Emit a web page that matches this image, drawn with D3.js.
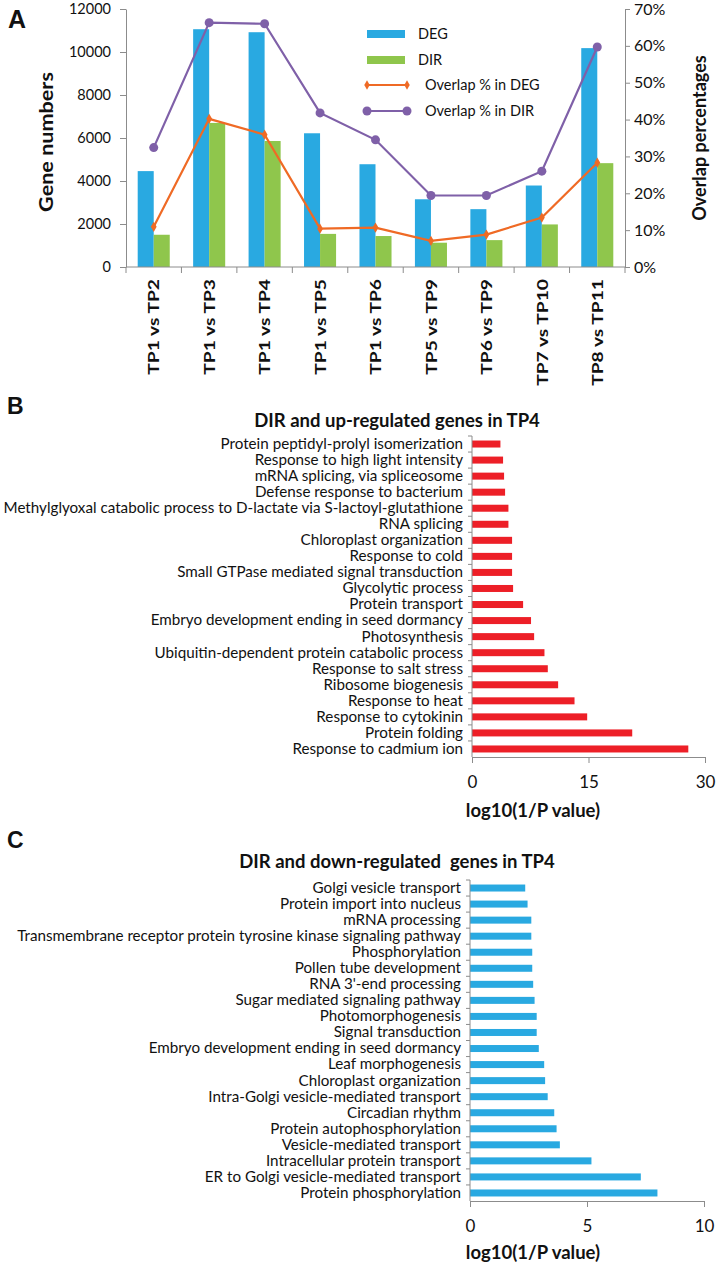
<!DOCTYPE html>
<html lang="en">
<head>
<meta charset="UTF-8">
<title>DEG / DIR overlap and GO enrichment in TP4</title>
<script src="https://d3js.org/d3.v7.min.js"></script>
<style>
    body { margin: 0; background: #fff; }
    svg text { font-family: Lato, "Open Sans", sans-serif; fill: #111; }
    .axis path, .axis line { stroke: #8c8c8c; }
    .panel-letter { font-family: "Liberation Sans", Arial, sans-serif; font-weight: bold; }
</style>
</head>
<body>
<div id="chart"></div>
<script>
// ---- panel A data ----
const comparisons = ["TP1 vs TP2", "TP1 vs TP3", "TP1 vs TP4", "TP1 vs TP5", "TP1 vs TP6",
    "TP5 vs TP9", "TP6 vs TP9", "TP7 vs TP10", "TP8 vs TP11"];
const degCounts = [4460, 11060, 10920, 6220, 4780, 3150, 2690, 3790, 10180];
const dirCounts = [1500, 6700, 5860, 1540, 1440, 1130, 1250, 1980, 4830];
const overlapInDeg = [10.9, 40.2, 35.9, 10.4, 10.7, 7.1, 8.8, 13.4, 28.3];
const overlapInDir = [32.4, 66.3, 66.0, 41.8, 34.5, 19.4, 19.4, 26.0, 59.7];
const countTicks = [0, 2000, 4000, 6000, 8000, 10000, 12000];
const pctTicks = [0, 10, 20, 30, 40, 50, 60, 70];

// ---- panel B data (top to bottom) ----
const upTerms = ["Protein peptidyl-prolyl isomerization", "Response to high light intensity",
    "mRNA splicing, via spliceosome", "Defense response to bacterium",
    "Methylglyoxal catabolic process to D-lactate via S-lactoyl-glutathione", "RNA splicing",
    "Chloroplast organization", "Response to cold", "Small GTPase mediated signal transduction",
    "Glycolytic process", "Protein transport", "Embryo development ending in seed dormancy",
    "Photosynthesis", "Ubiquitin-dependent protein catabolic process", "Response to salt stress",
    "Ribosome biogenesis", "Response to heat", "Response to cytokinin", "Protein folding",
    "Response to cadmium ion"];
const upValues = [3.66, 4.0, 4.13, 4.26, 4.69, 4.69, 5.16, 5.16, 5.16, 5.29,
    6.58, 7.6, 8.0, 9.33, 9.76, 11.09, 13.2, 14.83, 20.63, 27.85];
const upTicks = [0, 15, 30];

// ---- panel C data (top to bottom) ----
const downTerms = ["Golgi vesicle transport", "Protein import into nucleus", "mRNA processing",
    "Transmembrane receptor protein tyrosine kinase signaling pathway", "Phosphorylation",
    "Pollen tube development", "RNA 3'-end processing", "Sugar mediated signaling pathway",
    "Photomorphogenesis", "Signal transduction", "Embryo development ending in seed dormancy",
    "Leaf morphogenesis", "Chloroplast organization", "Intra-Golgi vesicle-mediated transport",
    "Circadian rhythm", "Protein autophosphorylation", "Vesicle-mediated transport",
    "Intracellular protein transport", "ER to Golgi vesicle-mediated transport",
    "Protein phosphorylation"];
const downValues = [2.36, 2.46, 2.62, 2.62, 2.66, 2.66, 2.70, 2.76, 2.85, 2.85,
    2.94, 3.17, 3.21, 3.32, 3.60, 3.70, 3.84, 5.19, 7.30, 8.01];
const downTicks = [0, 5, 10];

const colors = { deg: "#29a9e1", dir: "#8fc64c", ovDeg: "#ef6a25", ovDir: "#7f60a8", up: "#ed1f27" };

const width = 716, height = 1265;
const svg = d3.select("#chart").append("svg")
    .attr("width", width)
    .attr("height", height);

function styleAxis(g) {
    g.attr("class", "axis");
    g.selectAll("text").attr("fill", "#111");
}

// ================= Panel A =================
const aLeft = 126, aRight = 625, aTop = 9, aBottom = 267;

const x = d3.scaleBand().domain(comparisons).range([aLeft, aRight]);
const xSub = d3.scaleBand().domain(["deg", "dir"]).range([0, x.bandwidth()]).paddingOuter(0.73);
const yCount = d3.scaleLinear().domain([0, 12000]).range([aBottom, aTop]);
const yPct = d3.scaleLinear().domain([0, 70]).range([aBottom, aTop]);

svg.append("text").attr("class", "panel-letter")
    .attr("x", 8).attr("y", 28).attr("font-size", 25).text("A");

const groups = svg.append("g").selectAll("g")
    .data(comparisons)
    .join("g")
    .attr("transform", d => `translate(${x(d)},0)`);

groups.append("rect")
    .attr("x", xSub("deg"))
    .attr("width", xSub.bandwidth())
    .attr("y", (d, i) => yCount(degCounts[i]))
    .attr("height", (d, i) => aBottom - yCount(degCounts[i]))
    .attr("fill", colors.deg);

groups.append("rect")
    .attr("x", xSub("dir"))
    .attr("width", xSub.bandwidth())
    .attr("y", (d, i) => yCount(dirCounts[i]))
    .attr("height", (d, i) => aBottom - yCount(dirCounts[i]))
    .attr("fill", colors.dir);

// left axis
svg.append("g")
    .attr("transform", `translate(${aLeft},0)`)
    .call(d3.axisLeft(yCount).tickValues(countTicks).tickFormat(d3.format("d"))
        .tickSize(6).tickPadding(9).tickSizeOuter(0))
    .call(styleAxis)
    .call(g => g.selectAll("text").attr("font-size", 14.5));

// right axis
svg.append("g")
    .attr("transform", `translate(${aRight},0)`)
    .call(d3.axisRight(yPct).tickValues(pctTicks).tickFormat(d => d + "%")
        .tickSize(5).tickPadding(4).tickSizeOuter(0))
    .call(styleAxis)
    .call(g => g.selectAll("text").attr("font-size", 16));

// bottom axis: ticks at category boundaries, labels rotated
const xAxisG = svg.append("g").attr("class", "axis");
xAxisG.append("line")
    .attr("x1", aLeft).attr("x2", aRight)
    .attr("y1", aBottom).attr("y2", aBottom);
xAxisG.selectAll("line.tick")
    .data(comparisons.concat([null]))
    .join("line")
    .attr("class", "tick")
    .attr("x1", (d, i) => aLeft + i * x.step())
    .attr("x2", (d, i) => aLeft + i * x.step())
    .attr("y1", aBottom).attr("y2", aBottom + 6);
xAxisG.selectAll("text")
    .data(comparisons)
    .join("text")
    .attr("transform", d => `translate(${x(d) + x.bandwidth() / 2},${aBottom + 12}) rotate(-90) scale(1.2,1)`)
    .attr("text-anchor", "end")
    .attr("dy", "0.36em")
    .attr("font-size", 16)
    .attr("font-weight", "bold")
    .text(d => d);

// overlap lines
const cx = (d, i) => x(comparisons[i]) + x.bandwidth() / 2;
const linePct = d3.line().x(cx).y(d => yPct(d));
svg.append("path")
    .datum(overlapInDeg)
    .attr("d", linePct)
    .attr("fill", "none")
    .attr("stroke", colors.ovDeg)
    .attr("stroke-width", 2.2);
svg.append("g").selectAll("path")
    .data(overlapInDeg)
    .join("path")
    .attr("d", d3.symbol(d3.symbolDiamond, 30))
    .attr("transform", (d, i) => `translate(${cx(d, i)},${yPct(d)})`)
    .attr("fill", colors.ovDeg);

svg.append("path")
    .datum(overlapInDir)
    .attr("d", linePct)
    .attr("fill", "none")
    .attr("stroke", colors.ovDir)
    .attr("stroke-width", 2.2);
svg.append("g").selectAll("circle")
    .data(overlapInDir)
    .join("circle")
    .attr("cx", cx)
    .attr("cy", d => yPct(d))
    .attr("r", 4.5)
    .attr("fill", colors.ovDir);

// axis titles
svg.append("text")
    .attr("transform", `translate(47,${(aTop + aBottom) / 2 + 4}) rotate(-90) scale(1.2,1)`)
    .attr("text-anchor", "middle")
    .attr("dy", "0.36em")
    .attr("font-size", 18)
    .attr("font-weight", "bold")
    .text("Gene numbers");
svg.append("text")
    .attr("transform", `translate(700,${(aTop + aBottom) / 2}) rotate(-90)`)
    .attr("text-anchor", "middle")
    .attr("dy", "0.36em")
    .attr("font-size", 18)
    .attr("font-weight", "bold")
    .text("Overlap percentages");

// legend
const legend = svg.append("g").attr("transform", "translate(367,0)");
const legendItems = [
    { label: "DEG", kind: "bar", color: colors.deg, y: 34 },
    { label: "DIR", kind: "bar", color: colors.dir, y: 60 },
    { label: "Overlap % in DEG", kind: "diamond", color: colors.ovDeg, y: 85 },
    { label: "Overlap % in DIR", kind: "circle", color: colors.ovDir, y: 111 }
];
legendItems.forEach(it => {
    if (it.kind === "bar") {
        legend.append("rect").attr("x", 0).attr("y", it.y - 4).attr("width", 38).attr("height", 8)
            .attr("fill", it.color);
        legend.append("text").attr("x", 51).attr("y", it.y).attr("dy", "0.36em")
            .attr("font-size", 14.5).text(it.label);
    } else {
        legend.append("line").attr("x1", 0).attr("x2", 40).attr("y1", it.y).attr("y2", it.y)
            .attr("stroke", it.color).attr("stroke-width", 2.2);
        [0, 40].forEach(px => {
            if (it.kind === "diamond") {
                legend.append("path").attr("d", d3.symbol(d3.symbolDiamond, 26))
                    .attr("transform", `translate(${px},${it.y})`).attr("fill", it.color);
            } else {
                legend.append("circle").attr("cx", px).attr("cy", it.y).attr("r", 4.5)
                    .attr("fill", it.color);
            }
        });
        legend.append("text").attr("x", 58).attr("y", it.y).attr("dy", "0.36em")
            .attr("font-size", 14.5).text(it.label);
    }
});

// ================= Panels B and C =================
function goPanel(opts) {
    const xs = d3.scaleLinear().domain(opts.domain).range([opts.x0, opts.x1]);
    const ys = d3.scaleBand().domain(opts.terms).range([opts.top, opts.bottom]);

    svg.append("text").attr("class", "panel-letter")
        .attr("x", 7).attr("y", opts.letterY).attr("font-size", 23).text(opts.letter);

    svg.append("text")
        .attr("x", 397).attr("y", opts.titleY)
        .attr("text-anchor", "middle")
        .attr("font-size", 18.5)
        .attr("font-weight", "bold")
        .style("white-space", "pre")
        .text(opts.title);

    svg.append("g").selectAll("rect")
        .data(opts.values)
        .join("rect")
        .attr("x", xs(0))
        .attr("y", (d, i) => ys(opts.terms[i]) + ys.bandwidth() / 2 - 3.5)
        .attr("width", d => xs(d) - xs(0))
        .attr("height", 7)
        .attr("fill", opts.color);

    // category labels
    svg.append("g")
        .attr("transform", `translate(${opts.x0},0)`)
        .call(d3.axisLeft(ys).tickSize(0).tickPadding(9))
        .call(styleAxis)
        .call(g => g.select(".domain").remove())
        .call(g => g.selectAll("text").attr("font-size", 15.2));

    // y axis line and boundary ticks
    const yAx = svg.append("g").attr("class", "axis");
    yAx.append("line")
        .attr("x1", opts.x0).attr("x2", opts.x0)
        .attr("y1", opts.top).attr("y2", opts.bottom);
    yAx.selectAll("line.tick")
        .data(opts.terms)
        .join("line")
        .attr("class", "tick")
        .attr("x1", opts.x0 - 4).attr("x2", opts.x0)
        .attr("y1", d => ys(d)).attr("y2", d => ys(d));

    svg.append("g")
        .attr("transform", `translate(0,${opts.bottom})`)
        .call(d3.axisBottom(xs).tickValues(opts.ticks).tickSize(6).tickPadding(13).tickSizeOuter(0))
        .call(styleAxis)
        .call(g => g.selectAll("text").attr("font-size", 17));

    svg.append("text")
        .attr("x", 533).attr("y", opts.xTitleY)
        .attr("text-anchor", "middle")
        .attr("dy", "0.36em")
        .attr("font-size", 18.5)
        .attr("font-weight", "bold")
        .text("log10(1/P value)");
}

goPanel({
    letter: "B", letterY: 414, title: "DIR and up-regulated genes in TP4", titleY: 427,
    terms: upTerms, values: upValues, ticks: upTicks, domain: [0, 30],
    x0: 472, x1: 705, top: 436, bottom: 757, color: colors.up, xTitleY: 810
});

goPanel({
    letter: "C", letterY: 848, title: "DIR and down-regulated  genes in TP4", titleY: 868,
    terms: downTerms, values: downValues, ticks: downTicks, domain: [0, 10],
    x0: 470, x1: 704, top: 880, bottom: 1201, color: colors.deg, xTitleY: 1252
});
</script>
</body>
</html>
